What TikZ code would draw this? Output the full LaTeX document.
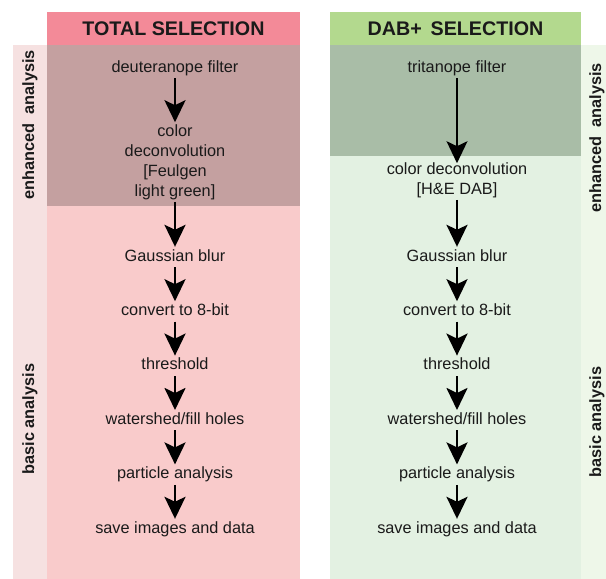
\documentclass[tikz,border=0pt]{standalone}
\usepackage{fontspec}
\setmainfont{Liberation Sans}
\usepackage{tikz}
\usetikzlibrary{positioning,arrows.meta}

\definecolor{totalhead}{HTML}{F38A98}
\definecolor{totalside}{HTML}{F6E1E1}
\definecolor{totalenh}{HTML}{C4A0A0}
\definecolor{totalbasic}{HTML}{F9CBCB}
\definecolor{dabhead}{HTML}{B3D98E}
\definecolor{dabside}{HTML}{EEF7E9}
\definecolor{dabenh}{HTML}{A9BDA7}
\definecolor{dabbasic}{HTML}{E3F1E2}
\definecolor{textdark}{HTML}{1A1A1A}

\tikzset{
	bighead/.tip={Stealth[length=22pt 0, width=21pt 0, inset=5pt 0]}
}

\begin{document}
\begin{tikzpicture}[
		x=1pt, y=-1pt
		,txt/.style={align=center, font=\fontsize{16.3}{20}\selectfont, text=textdark, inner xsep=2pt, inner ysep=2pt}
		,stepbox/.style={txt, text height=12pt, text depth=4pt}
		,head/.style={font=\fontsize{19.7}{23}\selectfont\bfseries, text=textdark, minimum height=33pt, inner sep=0pt}
		,side/.style={rotate=90, font=\fontsize{16.3}{20}\selectfont\bfseries, text=textdark}
		,flow/.style={-bighead, line width=2.7pt}
		,longflow/.style={-bighead, line width=1.5pt}
		,node distance=34pt
	]
		\useasboundingbox (0,0) rectangle (606,579);

		% panels
		\fill[totalside] (13,45) rectangle (47,579);
		\fill[totalenh] (47,45) rectangle (300,206);
		\fill[totalbasic] (47,206) rectangle (300,579);
		\fill[dabenh] (330,45) rectangle (581,156);
		\fill[dabbasic] (330,156) rectangle (581,579);
		\fill[dabside] (581,45) rectangle (606,579);

		% headers
		\node[head, fill=totalhead, minimum width=253pt] (TH) at (173.5,28.5) {TOTAL SELECTION};
		\node[head, fill=dabhead, minimum width=251pt] (DH) at (455.5,28.5) {DAB+\hspace{0.45em}SELECTION};

		% side labels
		\node[side] (TE) at (30,125) {enhanced~ analysis};
		\node[side] (TB) at (30,419) {basic analysis};
		\node[side] (DE) at (597,138) {enhanced~ analysis};
		\node[side] (DB) at (597,422) {basic analysis};

		% total selection
		\node[stepbox] (TF) at (175,68) {deuteranope filter};
		\node[txt] (TD) at (175,162) {color\\deconvolution\\{[}Feulgen\\light green]};
		\node[stepbox] (TG) at (175,257) {Gaussian blur};
		\node[stepbox, below=of TG] (TC) {convert to 8-bit};
		\node[stepbox, below=of TC] (TT) {threshold};
		\node[stepbox, below=of TT] (TW) {watershed/fill holes};
		\node[stepbox, below=of TW] (TP) {particle analysis};
		\node[stepbox, below=of TP] (TS) {save images and data};

		\draw[flow] (TF) -- (TD);
		\draw[flow] (TD) -- (TG);
		\draw[flow] (TG) -- (TC);
		\draw[flow] (TC) -- (TT);
		\draw[flow] (TT) -- (TW);
		\draw[flow] (TW) -- (TP);
		\draw[flow] (TP) -- (TS);

		% DAB+ selection
		\node[stepbox] (DF) at (457,68) {tritanope filter};
		\node[txt] (DD) at (457,180) {color deconvolution\\{[}H\&E DAB]};
		\node[stepbox] (DG) at (457,257) {Gaussian blur};
		\node[stepbox, below=of DG] (DC) {convert to 8-bit};
		\node[stepbox, below=of DC] (DT) {threshold};
		\node[stepbox, below=of DT] (DW) {watershed/fill holes};
		\node[stepbox, below=of DW] (DP) {particle analysis};
		\node[stepbox, below=of DP] (DS) {save images and data};

		\draw[longflow, shorten >=-3pt] (DF) -- (DD);
		\draw[flow] (DD) -- (DG);
		\draw[flow] (DG) -- (DC);
		\draw[flow] (DC) -- (DT);
		\draw[flow] (DT) -- (DW);
		\draw[flow] (DW) -- (DP);
		\draw[flow] (DP) -- (DS);
	\end{tikzpicture}
\end{document}
